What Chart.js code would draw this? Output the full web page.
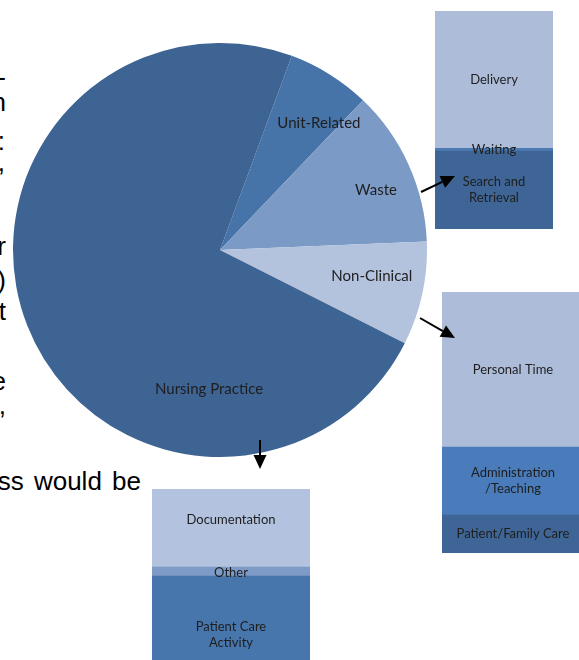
<!DOCTYPE html>
<html><head><meta charset="utf-8">
<script src="https://cdn.jsdelivr.net/npm/chart.js@4.4.0/dist/chart.umd.min.js"></script>
<style>
html,body{margin:0;padding:0;background:#fff;overflow:hidden;width:579px;height:660px;}
#stage{position:relative;width:579px;height:660px;overflow:hidden;}
#stage canvas,#stage svg{position:absolute;}
</style></head><body>
<div id="stage">
<svg id="bodytext" width="579" height="660" style="left:0;top:0;z-index:0"></svg>
<canvas id="pie" width="414" height="414" style="left:13px;top:43px;z-index:1"></canvas>
<canvas id="boxWaste" width="118" height="218" style="left:435px;top:11px;z-index:1"></canvas>
<canvas id="boxNonClinical" width="142" height="261" style="left:442px;top:292px;z-index:1"></canvas>
<canvas id="boxNursing" width="158" height="171" style="left:152px;top:489px;z-index:1"></canvas>
<svg id="arrows" width="579" height="660" style="left:0;top:0;z-index:2"></svg>
</div>
<script>
// ---- data ----
const pieLabels = ['Unit-Related', 'Waste', 'Non-Clinical', 'Nursing Practice'];
const pieValues = [6.5, 12.2, 8.1, 73.2];

const wasteLabels = ['Search and\nRetrieval', 'Waiting', 'Delivery'];
const wasteValues = [35.8, 1.2, 63.0];

const nonClinicalLabels = ['Patient/Family Care', 'Administration\n/Teaching', 'Personal Time'];
const nonClinicalValues = [14.5, 26.1, 59.4];

const nursingLabels = ['Patient Care\nActivity', 'Other', 'Documentation'];
const nursingValues = [49.1, 5.3, 45.6];

const bodyFragments = ['-', 'n', ':', ',', 'r', ')', 't', 'e', ',', 'ss would be'];

// ---- styles ----
const pieColors = ['#4673A8', '#7B9AC5', '#B3C2DD', '#3E6494'];
const wasteColors = ['#3E6595', '#4C7AB5', '#ADBCD8'];
const nonClinicalColors = ['#3E6595', '#4A7BBA', '#ADBCD8'];
const nursingColors = ['#4776AD', '#7D9BC6', '#B3C2DE'];
const labelFont = 'Lato, "Noto Sans", sans-serif';
const textColor = '#1e1e1e';
// label placement in pie: angle (deg clockwise from top), fraction of radius
const pieLabelPlace = [[37.9, 0.778], [69, 0.807], [99.7, 0.744], [184.5, 0.673]];
const nursingLabelShift = [17, 1, -8];
const bodyPlace = [[6, 86], [6, 111], [5, 150], [5, 171], [6, 255], [6, 289], [6, 320], [6, 390], [6, 414], [141, 490]];

Chart.defaults.font.family = labelFont;

// body text
const svgNS = 'http://www.w3.org/2000/svg';
const bt = document.getElementById('bodytext');
bodyFragments.forEach((t, i) => {
  const el = document.createElementNS(svgNS, 'text');
  el.setAttribute('x', bodyPlace[i][0]);
  el.setAttribute('y', bodyPlace[i][1]);
  el.setAttribute('text-anchor', 'end');
  el.setAttribute('font-family', '"Liberation Sans", Arial, sans-serif');
  el.setAttribute('font-size', '26');
  el.setAttribute('word-spacing', '3');
  el.setAttribute('fill', '#000');
  el.textContent = t;
  bt.appendChild(el);
});

// pie labels plugin
const pieLabelPlugin = {
  id: 'pieLabels',
  afterDatasetsDraw(chart) {
    const ctx = chart.ctx;
    const meta = chart.getDatasetMeta(0);
    ctx.save();
    ctx.font = '15px ' + labelFont;
    ctx.fillStyle = textColor;
    ctx.textAlign = 'center';
    ctx.textBaseline = 'middle';
    meta.data.forEach((arc, i) => {
      const [ang, f] = pieLabelPlace[i];
      const a = ang * Math.PI / 180;
      const r = arc.outerRadius * f;
      ctx.fillText(chart.data.labels[i], arc.x + r * Math.sin(a), arc.y - r * Math.cos(a));
    });
    ctx.restore();
  }
};

new Chart(document.getElementById('pie'), {
  type: 'pie',
  data: { labels: pieLabels, datasets: [{ data: pieValues, backgroundColor: pieColors, borderWidth: 0 }] },
  options: {
    responsive: false, animation: false, rotation: 20.3,
    layout: { padding: 0 },
    plugins: { legend: { display: false }, tooltip: { enabled: false } }
  },
  plugins: [pieLabelPlugin]
});

function stackBox(id, labels, values, colors, shifts) {
  const total = values.reduce((a, b) => a + b, 0);
  const plugin = {
    id: 'segLabels',
    afterDatasetsDraw(chart) {
      const ctx = chart.ctx;
      ctx.save();
      ctx.font = '13px ' + labelFont;
      ctx.fillStyle = textColor;
      ctx.textAlign = 'center';
      ctx.textBaseline = 'middle';
      chart.data.datasets.forEach((ds, i) => {
        const bar = chart.getDatasetMeta(i).data[0];
        const lines = ds.label.split('\n');
        const lh = 16;
        const cy = (bar.y + bar.base) / 2 + (shifts ? shifts[i] : 0);
        lines.forEach((ln, k) => {
          ctx.fillText(ln, bar.x, cy + (k - (lines.length - 1) / 2) * lh);
        });
      });
      ctx.restore();
    }
  };
  new Chart(document.getElementById(id), {
    type: 'bar',
    data: {
      labels: [''],
      datasets: values.map((v, i) => ({ label: labels[i], data: [v], backgroundColor: colors[i], borderWidth: 0,
        barPercentage: 1, categoryPercentage: 1 }))
    },
    options: {
      responsive: false, animation: false,
      layout: { padding: 0 },
      scales: {
        x: { stacked: true, display: false },
        y: { stacked: true, display: false, min: 0, max: total }
      },
      plugins: { legend: { display: false }, tooltip: { enabled: false } }
    },
    plugins: [plugin]
  });
}
stackBox('boxWaste', wasteLabels, wasteValues, wasteColors);
stackBox('boxNonClinical', nonClinicalLabels, nonClinicalValues, nonClinicalColors);
stackBox('boxNursing', nursingLabels, nursingValues, nursingColors, nursingLabelShift);

// arrows
const arrows = [[[421, 192], [455, 176]], [[420, 318], [455, 338]], [[260, 440], [260, 469]]];
const av = document.getElementById('arrows');
arrows.forEach(([s, t]) => {
  const dx = t[0] - s[0], dy = t[1] - s[1];
  const len = Math.hypot(dx, dy), ux = dx / len, uy = dy / len;
  const L = 14, W = 6.5;
  const bx = t[0] - ux * L, by = t[1] - uy * L;
  const line = document.createElementNS(svgNS, 'line');
  line.setAttribute('x1', s[0]); line.setAttribute('y1', s[1]);
  line.setAttribute('x2', bx); line.setAttribute('y2', by);
  line.setAttribute('stroke', '#000'); line.setAttribute('stroke-width', '2');
  av.appendChild(line);
  const poly = document.createElementNS(svgNS, 'polygon');
  poly.setAttribute('points', `${t[0]},${t[1]} ${bx - uy * W},${by + ux * W} ${bx + uy * W},${by - ux * W}`);
  poly.setAttribute('fill', '#000');
  av.appendChild(poly);
});
</script>
</body></html>
